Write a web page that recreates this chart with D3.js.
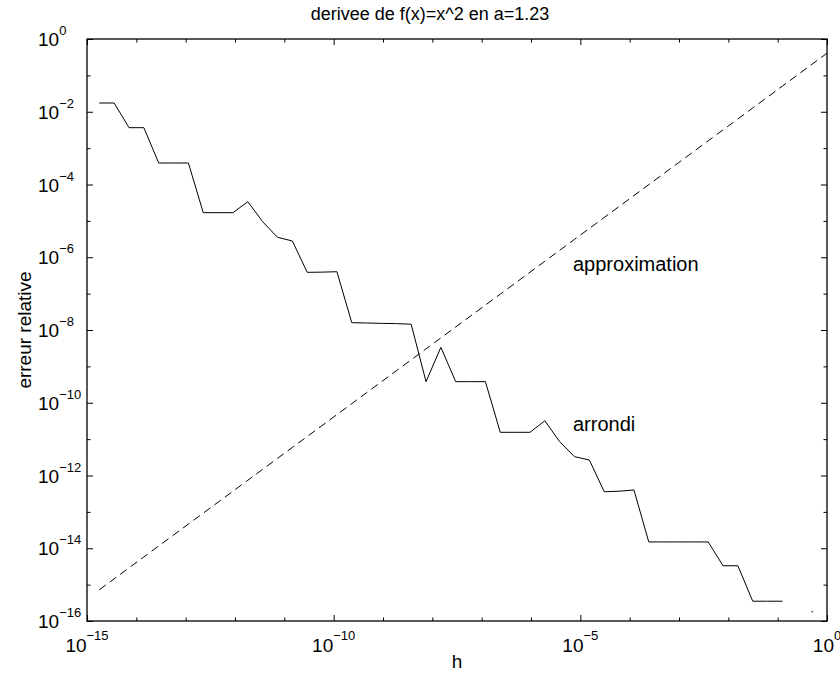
<!DOCTYPE html>
<html>
<head>
<meta charset="utf-8">
<script src="https://cdn.jsdelivr.net/npm/d3@7"></script>
<style>
  body { margin: 0; background: #fff; }
  text { font-family: "Liberation Sans", Arial, sans-serif; fill: #000; }
</style>
</head>
<body>
<div id="chart"></div>
<script>
// pas h = 2^-49 ... 2^0
var h = [
  1.776e-15, 3.553e-15, 7.105e-15, 1.421e-14, 2.842e-14, 5.684e-14, 1.137e-13, 2.274e-13, 4.547e-13, 9.095e-13,
  1.819e-12, 3.638e-12, 7.276e-12, 1.455e-11, 2.910e-11, 5.821e-11, 1.164e-10, 2.328e-10, 4.657e-10, 9.313e-10,
  1.863e-9, 3.725e-9, 7.451e-9, 1.490e-8, 2.980e-8, 5.960e-8, 1.192e-7, 2.384e-7, 4.768e-7, 9.537e-7,
  1.907e-6, 3.815e-6, 7.629e-6, 1.526e-5, 3.052e-5, 6.104e-5, 1.221e-4, 2.441e-4, 4.883e-4, 9.766e-4,
  1.953e-3, 3.906e-3, 7.813e-3, 1.563e-2, 3.125e-2, 6.25e-2, 0.125, 0.25, 0.5, 1
];

// erreur d'arrondi (trait plein), null = erreur nulle
var arrondi = [
  1.74e-2, 1.74e-2, 3.65e-3, 3.65e-3, 3.9e-4, 3.9e-4, 3.9e-4, 1.68e-5, 1.68e-5, 1.68e-5,
  3.36e-5, 9.5e-6, 3.53e-6, 2.8e-6, 3.85e-7, 3.9e-7, 4.0e-7, 1.59e-8, 1.56e-8, 1.52e-8,
  1.5e-8, 1.44e-8, 3.8e-10, 3.34e-9, 3.8e-10, 3.8e-10, 3.8e-10, 1.54e-11, 1.54e-11, 1.54e-11,
  3.2e-11, 8.5e-12, 3.29e-12, 2.67e-12, 3.58e-13, 3.7e-13, 4.0e-13, 1.49e-14, 1.49e-14, 1.49e-14,
  1.49e-14, 1.49e-14, 3.3e-15, 3.3e-15, 3.5e-16, 3.5e-16, 3.5e-16, null, 1.8e-16, null
];

// erreur d'approximation (pointilles)
var approximation = [
  7.22e-16, 1.444e-15, 2.888e-15, 5.777e-15, 1.155e-14, 2.311e-14, 4.622e-14, 9.243e-14, 1.849e-13, 3.697e-13,
  7.394e-13, 1.479e-12, 2.958e-12, 5.915e-12, 1.183e-11, 2.366e-11, 4.732e-11, 9.464e-11, 1.893e-10, 3.786e-10,
  7.572e-10, 1.514e-9, 3.029e-9, 6.057e-9, 1.211e-8, 2.423e-8, 4.846e-8, 9.692e-8, 1.938e-7, 3.877e-7,
  7.753e-7, 1.551e-6, 3.101e-6, 6.203e-6, 1.241e-5, 2.481e-5, 4.962e-5, 9.924e-5, 1.985e-4, 3.970e-4,
  7.939e-4, 1.588e-3, 3.176e-3, 6.352e-3, 1.270e-2, 2.541e-2, 5.081e-2, 0.1016, 0.2033, 0.4065
];

var xTickExp = ["\u221215", "\u221210", "\u22125", "0"];
var yTickExp = ["0", "\u22122", "\u22124", "\u22126", "\u22128", "\u221210", "\u221212", "\u221214", "\u221216"];
var labels = [
  { text: "approximation", h: 7.1e-6, e: 4.2e-7 },
  { text: "arrondi", h: 7.1e-6, e: 1.67e-11 }
];

(function () {
var width = 840,
    height = 675,
    x0 = 87, x1 = 827, y0 = 39, y1 = 621;

var svg = d3.select("#chart").append("svg")
  .attr("width", width)
  .attr("height", height);

var x = d3.scaleLog().domain([1e-15, 1]).range([x0, x1]);
var y = d3.scaleLog().domain([1e-16, 1]).range([y1, y0]);

var expOf = function (s) { return +s.replace("\u2212", "-"); };
var xDecades = d3.range(-15, 1).map(function (e) { return Math.pow(10, e); });
var yDecades = d3.range(-16, 1).map(function (e) { return Math.pow(10, e); });
var xMajor = xTickExp.map(expOf), yMajor = yTickExp.map(expOf);

// ticks on the four sides, pointing inside
function ticks(axisFn, scale, vals, major, tr) {
  var g = svg.append("g").attr("transform", tr)
    .call(axisFn(scale).tickValues(vals).tickFormat("").tickSizeOuter(0).tickSizeInner(0));
  g.select(".domain").remove();
  g.selectAll(".tick line")
    .attr("stroke", "#000")
    .each(function (d) {
      var len = major.indexOf(Math.round(Math.log10(d))) >= 0 ? 6 : 3.5;
      var ln = d3.select(this);
      if (axisFn === d3.axisBottom) ln.attr("y2", -len);
      if (axisFn === d3.axisTop) ln.attr("y2", len);
      if (axisFn === d3.axisLeft) ln.attr("x2", len);
      if (axisFn === d3.axisRight) ln.attr("x2", -len);
    });
}
ticks(d3.axisBottom, x, xDecades, xMajor, "translate(0," + y1 + ")");
ticks(d3.axisTop, x, xDecades, xMajor, "translate(0," + y0 + ")");
ticks(d3.axisLeft, y, yDecades, yMajor, "translate(" + x0 + ",0)");
ticks(d3.axisRight, y, yDecades, yMajor, "translate(" + x1 + ",0)");

svg.append("rect")
  .attr("x", x0).attr("y", y0)
  .attr("width", x1 - x0).attr("height", y1 - y0)
  .attr("fill", "none").attr("stroke", "#000").attr("stroke-width", 1.3);

// tick labels 10^n
svg.selectAll(".xlab").data(xTickExp).enter().append("text")
  .attr("class", "xlab")
  .attr("x", function (d) { return x(Math.pow(10, expOf(d))); })
  .attr("y", 652)
  .attr("text-anchor", "middle")
  .style("font-size", "19px")
  .each(function (d) {
    var t = d3.select(this);
    t.append("tspan").text("10");
    t.append("tspan").attr("dy", -12).style("font-size", "13px").text(d);
  });

svg.selectAll(".ylab").data(yTickExp).enter().append("text")
  .attr("class", "ylab")
  .attr("x", 38)
  .attr("y", function (d) { return y(Math.pow(10, expOf(d))) + 7; })
  .style("font-size", "19px")
  .each(function (d) {
    var t = d3.select(this);
    t.append("tspan").text("10");
    t.append("tspan").attr("dy", -11).style("font-size", "13px").text(d);
  });

// courbes
var pts = h.map(function (v, i) { return { h: v, a: arrondi[i], p: approximation[i] }; });

var lineA = d3.line()
  .defined(function (d) { return d.a !== null; })
  .x(function (d) { return x(d.h); })
  .y(function (d) { return y(d.a); });

var lineP = d3.line()
  .x(function (d) { return x(d.h); })
  .y(function (d) { return y(d.p); });

svg.append("path")
  .attr("d", lineP(pts))
  .attr("fill", "none")
  .attr("stroke", "#000")
  .attr("stroke-width", 1)
  .attr("stroke-dasharray", "8,5");

svg.append("path")
  .attr("d", lineA(pts))
  .attr("fill", "none")
  .attr("stroke", "#000")
  .attr("stroke-width", 1);

// isolated points show as a dot
svg.selectAll(".dot")
  .data(pts.filter(function (d, i) {
    return d.a !== null && (i === 0 || pts[i - 1].a === null) && (i === pts.length - 1 || pts[i + 1].a === null);
  }))
  .enter().append("circle")
  .attr("cx", function (d) { return x(d.h); })
  .attr("cy", function (d) { return y(d.a); })
  .attr("r", 0.7)
  .attr("fill", "#000");

svg.selectAll(".ann").data(labels).enter().append("text")
  .attr("x", function (d) { return x(d.h); })
  .attr("y", function (d) { return y(d.e); })
  .style("font-size", "20px")
  .text(function (d) { return d.text; });

// titres
svg.append("text")
  .attr("x", 430).attr("y", 20)
  .attr("text-anchor", "middle")
  .style("font-size", "18px")
  .text("derivee de f(x)=x^2 en a=1.23");

svg.append("text")
  .attr("x", (x0 + x1) / 2).attr("y", 668)
  .attr("text-anchor", "middle")
  .style("font-size", "19px")
  .text("h");

svg.append("text")
  .attr("transform", "translate(31," + (y0 + y1) / 2 + ") rotate(-90)")
  .attr("text-anchor", "middle")
  .style("font-size", "19px")
  .text("erreur relative");
})();
</script>
</body>
</html>
